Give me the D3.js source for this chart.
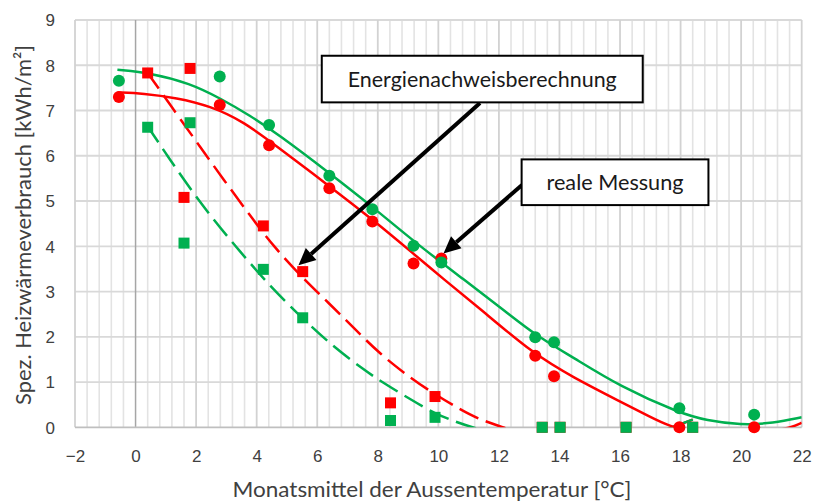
<!DOCTYPE html>
<html><head><meta charset="utf-8">
<script src="https://cdn.jsdelivr.net/npm/d3@7"></script>
<style>
html,body{margin:0;padding:0;background:#fff;}
svg{display:block;font-family:Lato,"Open Sans",sans-serif;}
</style></head>
<body><svg id="c" width="816" height="503"></svg>
<script>
// ---------- data ----------
const xTicks = [-2, 0, 2, 4, 6, 8, 10, 12, 14, 16, 18, 20, 22];
const yTicks = [0, 1, 2, 3, 4, 5, 6, 7, 8, 9];

// measured (circles)
const messTemp  = [-0.55, 2.78, 4.41, 6.40, 7.82, 9.18, 10.10, 13.20, 13.82, 17.96, 20.43];
const messRed   = [7.30, 7.12, 6.23, 5.28, 4.55, 3.62, 3.73, 1.58, 1.13, 0.00, 0.00];
const messGreen = [7.66, 7.75, 6.68, 5.56, 4.82, 4.01, 3.64, 1.99, 1.88, 0.42, 0.28];

// calculated (squares)
const calcTemp  = [0.40, 1.80, 1.60, 4.22, 5.52, 8.42, 9.89, 13.43, 14.02, 16.20, 18.40];
const calcRed   = [7.83, 7.93, 5.08, 4.45, 3.44, 0.54, 0.68, 0.00, 0.00, 0.00, 0.00];
const calcGreen = [6.63, 6.73, 4.07, 3.49, 2.42, 0.15, 0.22, 0.00, 0.00, 0.00, 0.00];

// trend lines
const trendMessGreenX = [-0.6, 0.5, 1.8, 2.8, 3.8, 4.7, 6.4, 7.85, 9.2, 10.85, 12.26, 13.2, 14.46, 16.0, 17.98, 18.86, 19.97, 21.07, 22.0];
const trendMessGreenY = [7.90, 7.83, 7.60, 7.27, 6.88, 6.48, 5.62, 4.86, 4.10, 3.26, 2.54, 2.04, 1.54, 0.90, 0.31, 0.15, 0.05, 0.09, 0.22];
const trendMessRedX = [-0.6, 0.25, 1.36, 2.46, 3.56, 4.72, 6.42, 7.85, 9.17, 10.16, 11.38, 13.14, 14.46, 16.0, 17.0, 17.6, 18.5, 19.5, 20.5, 21.3, 21.65, 22.0];
const trendMessRedY = [7.40, 7.38, 7.28, 7.10, 6.76, 6.18, 5.32, 4.58, 3.84, 3.28, 2.62, 1.62, 1.10, 0.57, 0.23, 0.03, -0.12, -0.20, -0.17, -0.05, 0.00, 0.10];
const trendCalcRedX = [0.37, 1.36, 2.13, 2.90, 3.78, 4.55, 5.52, 6.42, 7.2, 8.07, 9.0, 9.9, 10.71, 11.37, 12.14, 13.0, 14.5, 16.0, 17.1, 17.75, 18.4];
const trendCalcRedY = [7.86, 6.92, 6.20, 5.48, 4.68, 4.00, 3.30, 2.72, 2.20, 1.62, 1.13, 0.72, 0.40, 0.17, 0.00, -0.20, -0.40, -0.35, -0.15, 0.00, 0.17];
const trendCalcGreenX = [0.37, 1.03, 1.69, 2.46, 3.45, 4.44, 5.52, 6.5, 7.52, 8.07, 9.17, 9.9, 10.5, 11.1, 12.5, 14.0, 15.5, 17.0, 17.7, 18.4];
const trendCalcGreenY = [6.68, 6.02, 5.38, 4.68, 3.88, 3.12, 2.40, 1.80, 1.28, 1.03, 0.58, 0.30, 0.14, 0.00, -0.25, -0.40, -0.40, -0.20, 0.00, 0.17];

const annoLabels = ["Energienachweisberechnung", "reale Messung"];
const xTitle = "Monatsmittel der Aussentemperatur [°C]";
const yTitle = "Spez. Heizwärmeverbrauch  [kWh/m²]";

// ---------- drawing ----------
const RED = "#ff0000", GREEN = "#00b050";
const svg = d3.select("#c");
const L = 75, R = 801.7, T = 20, B = 427.3;
const x = d3.scaleLinear().domain([-2, 22]).range([L, R]);
const y = d3.scaleLinear().domain([0, 9]).range([B, T]);

svg.append("defs").append("clipPath").attr("id", "plotclip")
  .append("rect").attr("x", L).attr("y", T).attr("width", R - L).attr("height", B - T);

// grid
const g = svg.append("g");
const minor = d3.range(-2, 22.001, 0.4).filter(v => Math.abs(v / 2 - Math.round(v / 2)) > 1e-6);
g.selectAll(".mn").data(minor).enter().append("line")
  .attr("x1", d => x(d)).attr("x2", d => x(d)).attr("y1", T).attr("y2", B)
  .attr("stroke", "#e3e3e3").attr("stroke-width", 1.6);
g.selectAll(".hz").data(yTicks.filter(v => v > 0)).enter().append("line")
  .attr("x1", L).attr("x2", R).attr("y1", d => y(d)).attr("y2", d => y(d))
  .attr("stroke", "#d9d9d9").attr("stroke-width", 1.8);
g.selectAll(".mj").data(xTicks.filter(v => v !== 0)).enter().append("line")
  .attr("x1", d => x(d)).attr("x2", d => x(d)).attr("y1", T).attr("y2", B)
  .attr("stroke", "#d2d2d2").attr("stroke-width", 1.8);
g.append("line").attr("x1", x(0)).attr("x2", x(0)).attr("y1", T).attr("y2", B)
  .attr("stroke", "#a6a6a6").attr("stroke-width", 1.5);
g.append("line").attr("x1", L).attr("x2", R).attr("y1", y(0)).attr("y2", y(0))
  .attr("stroke", "#bfbfbf").attr("stroke-width", 1.8);

// axes (labels only)
const xAxis = d3.axisBottom(x).tickValues(xTicks).tickSize(0).tickPadding(0).tickFormat(d3.format("d"));
const ax = svg.append("g").attr("transform", `translate(0,${B + 35})`).call(xAxis);
ax.select(".domain").remove();
ax.selectAll("text").attr("fill", "#404040").attr("font-size", 17).attr("dy", 0).attr("y", 0);
const yAxis = d3.axisLeft(y).tickValues(yTicks).tickSize(0).tickPadding(0).tickFormat(d3.format("d"));
const ay = svg.append("g").attr("transform", `translate(${L - 20},0)`).call(yAxis);
ay.select(".domain").remove();
ay.selectAll("text").attr("fill", "#404040").attr("font-size", 17).attr("dy", "0.35em").attr("x", 0);

svg.append("text").attr("x", 432).attr("y", 497).attr("text-anchor", "middle")
  .attr("font-size", 21.5).attr("fill", "#404040")
  .attr("textLength", 399).attr("lengthAdjust", "spacingAndGlyphs").text(xTitle);
svg.append("text").attr("transform", "translate(31,225) rotate(-90)").attr("text-anchor", "middle")
  .attr("font-size", 21.5).attr("fill", "#404040")
  .attr("textLength", 360).attr("lengthAdjust", "spacingAndGlyphs").text(yTitle);

// trend lines
const line = d3.line().x(d => x(d[0])).y(d => y(d[1])).curve(d3.curveBasis);
const zip = (a, b) => a.map((v, i) => [v, b[i]]);
const tl = svg.append("g").attr("clip-path", "url(#plotclip)");
tl.append("path").attr("d", line(zip(trendCalcRedX, trendCalcRedY))).attr("fill", "none")
  .attr("stroke", RED).attr("stroke-width", 2.5).attr("stroke-dasharray", "21,8");
tl.append("path").attr("d", line(zip(trendCalcGreenX, trendCalcGreenY))).attr("fill", "none")
  .attr("stroke", GREEN).attr("stroke-width", 2.5).attr("stroke-dasharray", "21,8");
tl.append("path").attr("d", line(zip(trendMessRedX, trendMessRedY))).attr("fill", "none")
  .attr("stroke", RED).attr("stroke-width", 2.5);
tl.append("path").attr("d", line(zip(trendMessGreenX, trendMessGreenY))).attr("fill", "none")
  .attr("stroke", GREEN).attr("stroke-width", 2.5);

// markers
const mk = svg.append("g");
const sq = 11;
mk.selectAll(".sr").data(zip(calcTemp, calcRed)).enter().append("rect")
  .attr("x", d => x(d[0]) - sq / 2).attr("y", d => y(d[1]) - sq / 2).attr("width", sq).attr("height", sq).attr("fill", RED);
mk.selectAll(".sg").data(zip(calcTemp, calcGreen)).enter().append("rect")
  .attr("x", d => x(d[0]) - sq / 2).attr("y", d => y(d[1]) - sq / 2).attr("width", sq).attr("height", sq).attr("fill", GREEN);
mk.selectAll(".cr").data(zip(messTemp, messRed)).enter().append("circle")
  .attr("cx", d => x(d[0])).attr("cy", d => y(d[1])).attr("r", 6).attr("fill", RED);
mk.selectAll(".cg").data(zip(messTemp, messGreen)).enter().append("circle")
  .attr("cx", d => x(d[0])).attr("cy", d => y(d[1])).attr("r", 6).attr("fill", GREEN);

// annotations
function arrow(x1, y1, x2, y2) {
  const ang = Math.atan2(y2 - y1, x2 - x1), hl = 17, hw = 8;
  const bx = x2 - hl * Math.cos(ang), by = y2 - hl * Math.sin(ang);
  svg.append("line").attr("x1", x1).attr("y1", y1).attr("x2", bx).attr("y2", by)
    .attr("stroke", "#000").attr("stroke-width", 4);
  const px = -Math.sin(ang) * hw, py = Math.cos(ang) * hw;
  svg.append("path").attr("d", `M${x2},${y2}L${bx + px},${by + py}L${bx - px},${by - py}Z`).attr("fill", "#000");
}
function box(x0, y0, x1, y1, label, fs, w) {
  svg.append("rect").attr("x", x0).attr("y", y0).attr("width", x1 - x0).attr("height", y1 - y0)
    .attr("fill", "#fff").attr("stroke", "#000").attr("stroke-width", 2);
  svg.append("text").attr("x", (x0 + x1) / 2).attr("y", (y0 + y1) / 2).attr("dy", "0.35em")
    .attr("text-anchor", "middle").attr("font-size", fs).attr("fill", "#1a1a1a")
    .attr("textLength", w).attr("lengthAdjust", "spacingAndGlyphs").text(label);
}
arrow(480, 103, x(5.38), y(3.58));
arrow(522, 185, x(10.17), y(3.84));
box(x(6.15), y(8.21), x(16.75), y(7.18), annoLabels[0], 21.5, 269);
box(x(12.75), y(5.92), x(18.92), y(4.91), annoLabels[1], 21.5, 137);
</script></body></html>
